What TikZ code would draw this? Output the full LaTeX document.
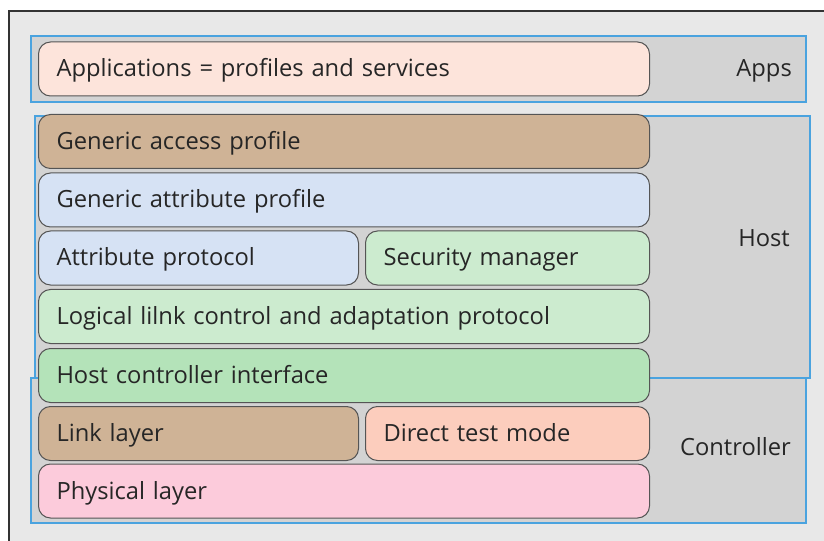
\documentclass[tikz,border=0pt]{standalone}
\usepackage{fontspec}
\setmainfont{Open Sans}
\usepackage{xcolor}
\definecolor{pagebg}{HTML}{E8E8E8}
\definecolor{framecol}{HTML}{333333}
\definecolor{bandfill}{HTML}{D3D3D3}
\definecolor{bandline}{HTML}{4AA3DF}
\definecolor{layerline}{HTML}{555555}
\definecolor{textcol}{HTML}{262626}
\definecolor{appsfill}{HTML}{FDE4DB}
\definecolor{tanfill}{HTML}{CFB396}
\definecolor{bluefill}{HTML}{D6E2F4}
\definecolor{greenfill}{HTML}{CCEBCF}
\definecolor{hcifill}{HTML}{B4E3B9}
\definecolor{dtmfill}{HTML}{FCCDBD}
\definecolor{phyfill}{HTML}{FCCBDB}

\begin{document}
\begin{tikzpicture}[x=1bp,y=-1bp,
  band/.style={draw=bandline,fill=bandfill,line width=1.2bp,inner sep=0pt},
  layer/.style={draw=layerline,line width=1bp,rounded corners=12bp,anchor=west,align=left,
    inner xsep=18bp,inner ysep=0pt,minimum height=54bp,text height=19bp,text depth=3bp,
    font=\fontsize{23.8}{28}\selectfont,text=textcol},
  tag/.style={anchor=east,inner sep=0pt,text height=19bp,text depth=3bp,
    font=\fontsize{23.8}{28}\selectfont,text=textcol}]
\useasboundingbox (0,0) rectangle (824,541);
% page background and frame
\fill[pagebg] (9,11) rectangle (824,541);
\draw[framecol,line width=1.2bp] (9,541) -- (9,11) -- (824,11);
% bands
\node[band,minimum width=775bp,minimum height=145bp] (ctrlband) at (418.5,450.5) {};
\node[band,minimum width=775bp,minimum height=262bp] (hostband) at (422.5,247) {};
\node[band,minimum width=775bp,minimum height=66bp] (appsband) at (418.5,69) {};
\node[tag] (appslbl) at (792,69) {Apps};
\node[tag] (hostlbl) at (790,239) {Host};
\node[tag] (ctrllbl) at (791,447) {Controller};
% layers
\node[layer,fill=appsfill,text width=575bp] (apps) at (38,69) {Applications = profiles and services};
\node[layer,fill=tanfill,text width=575bp] (gap) at (38,141.5) {Generic access profile};
\node[layer,fill=bluefill,text width=575bp] (gatt) at (38,200) {Generic attribute profile};
\node[layer,fill=bluefill,text width=284bp] (att) at (38,258) {Attribute protocol};
\node[layer,fill=greenfill,text width=248bp] (sm) at (365,258) {Security manager};
\node[layer,fill=greenfill,text width=575bp] (l2cap) at (38,316.5) {Logical lilnk control and adaptation protocol};
\node[layer,fill=hcifill,text width=575bp] (hci) at (38,375.5) {Host controller interface};
\node[layer,fill=tanfill,text width=284bp] (ll) at (38,433.5) {Link layer};
\node[layer,fill=dtmfill,text width=248bp] (dtm) at (365,433.5) {Direct test mode};
\node[layer,fill=phyfill,text width=575bp] (phy) at (38,491) {Physical layer};
\end{tikzpicture}
\end{document}
